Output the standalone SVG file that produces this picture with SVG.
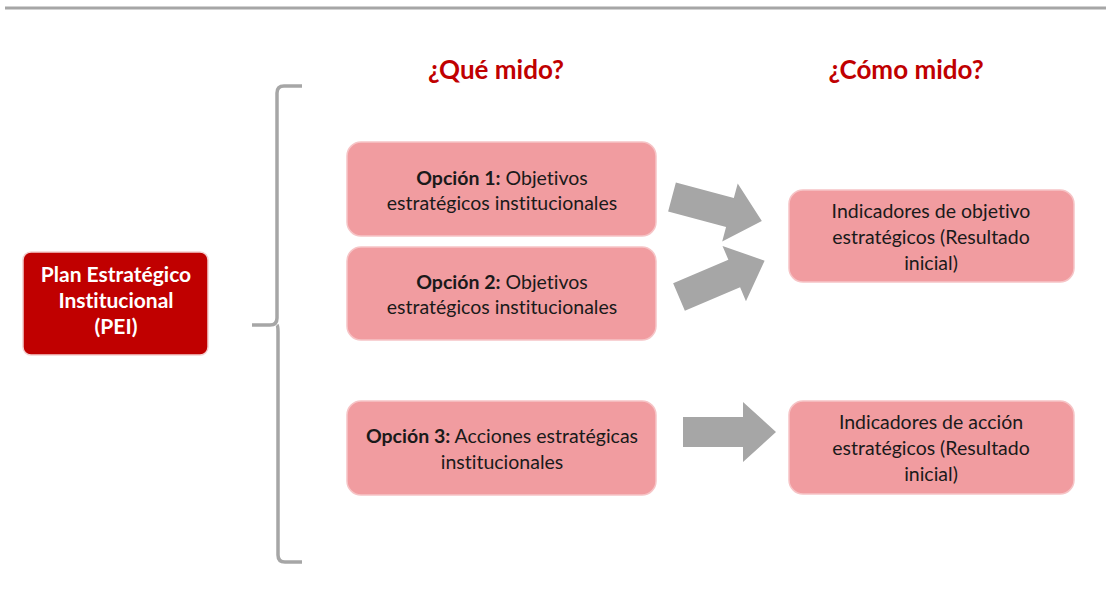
<svg xmlns="http://www.w3.org/2000/svg" width="1106" height="590" viewBox="0 0 1106 590">
<style>
.box{fill:#f19ca0;stroke:#f6c4c6;stroke-width:1.5}
.t{font-family:Lato,"Liberation Sans",sans-serif;font-size:19.5px;fill:#1a1a1a;text-anchor:middle;font-variant-ligatures:none}
.b{font-weight:bold}
.p{fill:#fff;font-size:21px;font-weight:bold}
.h{font-family:Lato,"Liberation Sans",sans-serif;font-size:26px;font-weight:bold;fill:#c00000;text-anchor:middle}
.arr{fill:#a6a6a6}
</style>
<defs>
<path id="arrow" d="M0,-15 H60 V-30 L93,0 L60,30 V15 H0 Z"/>
</defs>
<rect width="1106" height="590" fill="#fff"/>
<line x1="5" y1="8" x2="1106" y2="8" stroke="#a6a6a6" stroke-width="3"/>
<text class="h" x="496" y="79">¿Qué mido?</text>
<text class="h" x="906" y="79">¿Cómo mido?</text>
<g id="brace">
<path d="M302,86 H284 Q277,86 277,93 V318 Q277,325 270,325 H252 M277,325 Q278,326 278,332 V555 Q278,562 285,562 H302" fill="none" stroke="#a6a6a6" stroke-width="3.5" stroke-linejoin="round"/>
</g>
<g id="pei">
<rect x="23" y="252" width="185" height="103" rx="8" fill="#c00000" stroke="#f3d0d0" stroke-width="1.5"/>
<text class="t p" x="116" y="282">Plan Estratégico</text>
<text class="t p" x="116" y="308">Institucional</text>
<text class="t p" x="116" y="334">(PEI)</text>
</g>
<g id="op1">
<rect class="box" x="347" y="142" width="309" height="94" rx="14"/>
<text class="t" x="502" y="185"><tspan class="b">Opción 1:</tspan> Objetivos</text>
<text class="t" x="502" y="210">estratégicos institucionales</text>
</g>
<g id="op2">
<rect class="box" x="347" y="247" width="309" height="93" rx="14"/>
<text class="t" x="502" y="289"><tspan class="b">Opción 2:</tspan> Objetivos</text>
<text class="t" x="502" y="314">estratégicos institucionales</text>
</g>
<g id="op3">
<rect class="box" x="347" y="401" width="309" height="94" rx="14"/>
<text class="t" x="502" y="443"><tspan class="b">Opción 3:</tspan> Acciones estratégicas</text>
<text class="t" x="502" y="469">institucionales</text>
</g>
<g id="ind1">
<rect class="box" x="789" y="190" width="285" height="92" rx="14"/>
<text class="t" x="931" y="218">Indicadores de objetivo</text>
<text class="t" x="931" y="244">estratégicos (Resultado</text>
<text class="t" x="931" y="270">inicial)</text>
</g>
<g id="ind2">
<rect class="box" x="789" y="401" width="285" height="93" rx="14"/>
<text class="t" x="931" y="429">Indicadores de acción</text>
<text class="t" x="931" y="455">estratégicos (Resultado</text>
<text class="t" x="931" y="481">inicial)</text>
</g>
<g id="connectors">
<use href="#arrow" class="arr" transform="translate(672,197) rotate(15)"/>
<use href="#arrow" class="arr" transform="translate(679,297) rotate(-23)"/>
<use href="#arrow" class="arr" transform="translate(683,432)"/>
</g>
</svg>
